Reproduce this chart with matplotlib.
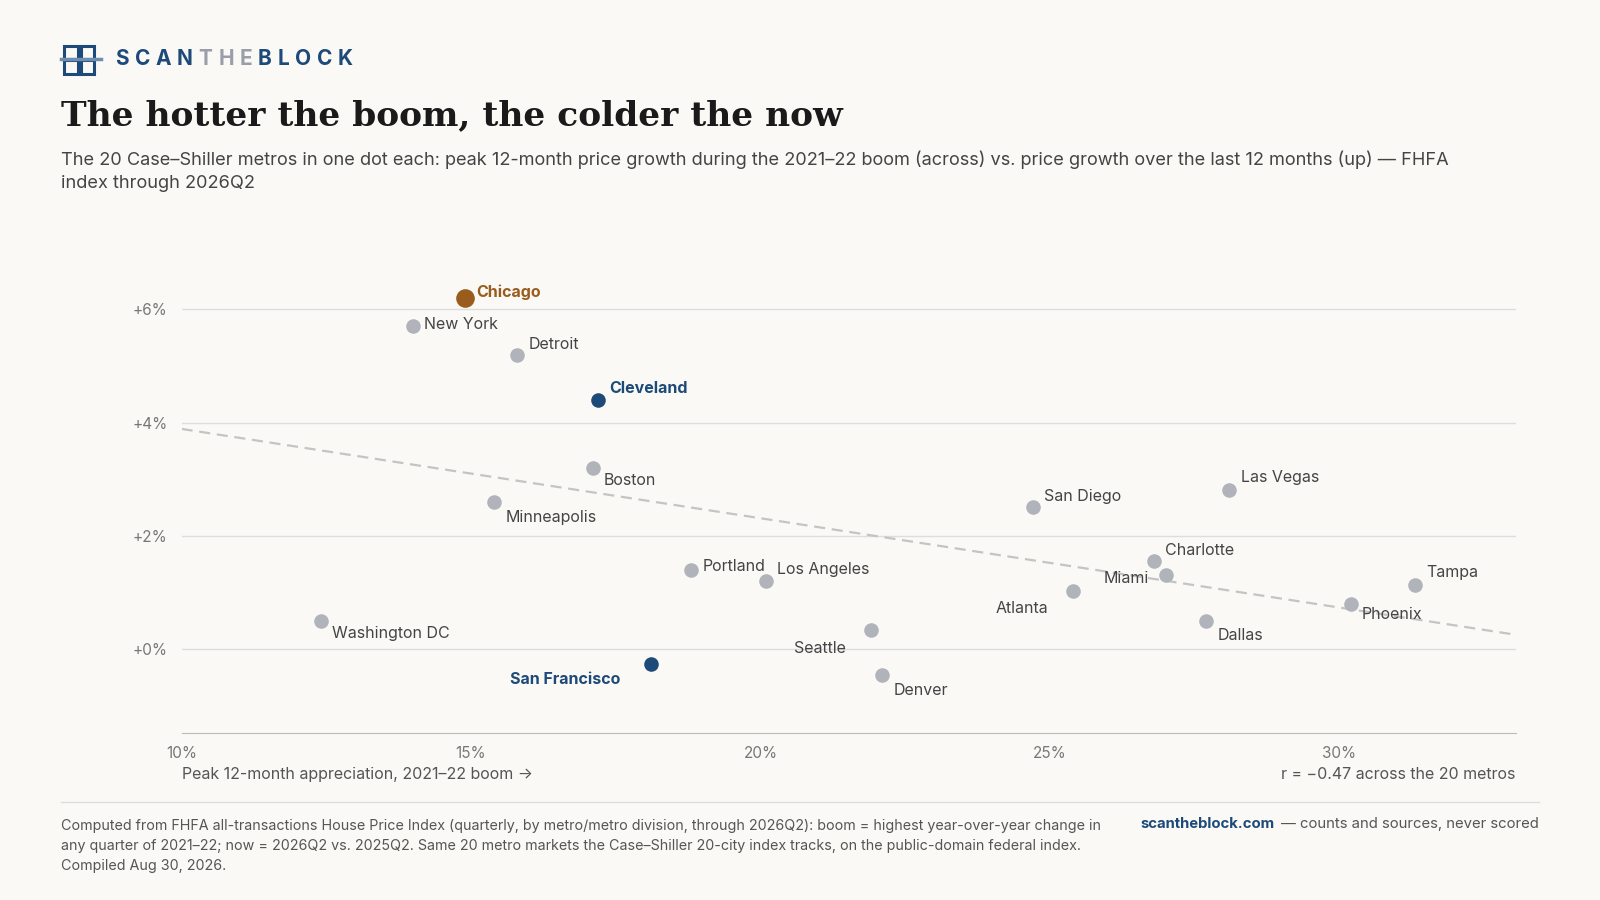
import numpy as np
import matplotlib
matplotlib.use('Agg')
import matplotlib.pyplot as plt
from matplotlib.patches import Rectangle

cities = ['Chicago', 'New York', 'Detroit', 'Cleveland', 'Boston', 'Minneapolis', 'Portland',
          'Los Angeles', 'Washington DC', 'San Francisco', 'Seattle', 'Denver', 'San Diego',
          'Las Vegas', 'Charlotte', 'Miami', 'Atlanta', 'Dallas', 'Phoenix', 'Tampa']
boom = [14.9, 14.0, 15.8, 17.2, 17.1, 15.4, 18.8, 20.1, 12.4, 18.1, 21.9, 22.1, 24.7,
        28.1, 26.8, 27.0, 25.4, 27.7, 30.2, 31.3]
now = [6.2, 5.7, 5.2, 4.4, 3.2, 2.6, 1.4, 1.2, 0.5, -0.27, 0.33, -0.47, 2.5,
       2.8, 1.55, 1.3, 1.03, 0.5, 0.8, 1.12]
# label offsets in points (dx, dy, ha)
offs = {'Chicago': (8, 4, 'left'), 'New York': (8, 1, 'left'), 'Detroit': (8, 7, 'left'),
        'Cleveland': (8, 8, 'left'), 'Boston': (8, -9, 'left'), 'Minneapolis': (8, -11, 'left'),
        'Portland': (8, 2, 'left'), 'Los Angeles': (8, 8, 'left'), 'Washington DC': (8, -9, 'left'),
        'San Francisco': (-22, -11, 'right'), 'Seattle': (-18, -13, 'right'),
        'Denver': (8, -11, 'left'), 'San Diego': (8, 8, 'left'), 'Las Vegas': (8, 9, 'left'),
        'Charlotte': (8, 8, 'left'), 'Miami': (-45, -2, 'left'), 'Atlanta': (-18, -13, 'right'),
        'Dallas': (8, -11, 'left'), 'Phoenix': (8, -8, 'left'), 'Tampa': (8, 9, 'left')}

BG = '#faf9f6'
NAVY = '#1d4a78'
plt.rcParams['font.family'] = ['Inter', 'DejaVu Sans']

fig = plt.figure(figsize=(16, 9), dpi=100, facecolor=BG)
ax = fig.add_axes([0.1135, 0.186, 0.834, 0.508])
ax.set_facecolor(BG)

for c, x, y in zip(cities, boom, now):
    dx, dy, ha = offs[c]
    if c == 'Chicago':
        col, s, fc, fw = '#9a5c1c', 180, '#9a5c1c', 'bold'
    elif c in ('Cleveland', 'San Francisco'):
        col, s, fc, fw = NAVY, 110, NAVY, 'bold'
    else:
        col, s, fc, fw = '#b0b3ba', 110, '#444444', 'normal'
    ax.scatter(x, y, s=s, color=col, zorder=3, linewidths=0)
    ax.annotate(c, (x, y), xytext=(dx, dy), textcoords='offset points', ha=ha, va='center',
                fontsize=11.5, color=fc, fontweight=fw)

m, b = np.polyfit(boom, now, 1)
xs = np.array([10, 33.05])
ax.plot(xs, m * xs + b, ls=(0, (5, 3)), color='#c4c4c4', lw=1.6, zorder=1)

ax.set_xlim(10, 33.05)
ax.set_ylim(-1.48, 6.6)
ax.set_yticks([0, 2, 4, 6])
ax.set_yticklabels(['+0%', '+2%', '+4%', '+6%'])
ax.set_xticks([10, 15, 20, 25, 30])
ax.set_xticklabels(['10%', '15%', '20%', '25%', '30%'])
ax.grid(axis='y', color='#dddddd', lw=1)
for sp in ['top', 'right', 'left']:
    ax.spines[sp].set_visible(False)
ax.spines['bottom'].set_color('#bbbbbb')
ax.tick_params(length=0, labelsize=11, colors='#777777', pad=10)
ax.set_axisbelow(True)

fig.text(0.1135, 0.134, 'Peak 12-month appreciation, 2021–22 boom →', fontsize=11.5, color='#555555')
fig.text(0.947, 0.134, 'r = −0.47 across the 20 metros', fontsize=11.5, color='#555555', ha='right')

# header
for (lx, ly) in [(0.040, 0.934), (0.0505, 0.934), (0.040, 0.918), (0.0505, 0.918)]:
    fig.add_artist(Rectangle((lx, ly), 0.0085, 0.015, transform=fig.transFigure,
                             fill=False, ec=NAVY, lw=2.2))
fig.add_artist(plt.Line2D([0.038, 0.063], [0.934, 0.934], color='#6f8fb0', lw=2.5))
renderer = fig.canvas.get_renderer()
x0 = 0.072
for i, ch in enumerate('SCANTHEBLOCK'):
    col = '#9a9ea8' if 4 <= i <= 6 else NAVY
    t = fig.text(x0, 0.934, ch, fontsize=15, fontweight='bold', color=col, va='center')
    w = t.get_window_extent(renderer).width / fig.bbox.width
    x0 += w + 0.0036
fig.text(0.038, 0.872, 'The hotter the boom, the colder the now', fontsize=24.8, fontweight='bold',
         family=['DejaVu Serif'], color='#1a1a1a', va='center')
fig.text(0.038, 0.81, 'The 20 Case–Shiller metros in one dot each: peak 12-month price growth during the '
         '2021–22 boom (across) vs. price growth over the last 12 months (up) — FHFA\nindex through 2026Q2',
         fontsize=13.1, color='#444444', va='center', linespacing=1.45)

# footer
fig.add_artist(plt.Line2D([0.038, 0.962], [0.109, 0.109], color='#dddddd', lw=1))
fig.text(0.038, 0.033, 'Computed from FHFA all-transactions House Price Index (quarterly, by metro/metro division, '
         'through 2026Q2): boom = highest year-over-year change in\nany quarter of 2021–22; now = 2026Q2 vs. 2025Q2. '
         'Same 20 metro markets the Case–Shiller 20-city index tracks, on the public-domain federal index.\n'
         'Compiled Aug 30, 2026.', fontsize=10.3, color='#555555', linespacing=1.55)
tr = fig.text(0.962, 0.084, '— counts and sources, never scored', fontsize=10.7, color='#555555',
              va='center', ha='right')
wr = tr.get_window_extent(renderer).width / fig.bbox.width
fig.text(0.962 - wr - 0.004, 0.084, 'scantheblock.com', fontsize=10.7, color=NAVY, fontweight='bold',
         va='center', ha='right')

fig.savefig('out.png', dpi=100, facecolor=BG)
